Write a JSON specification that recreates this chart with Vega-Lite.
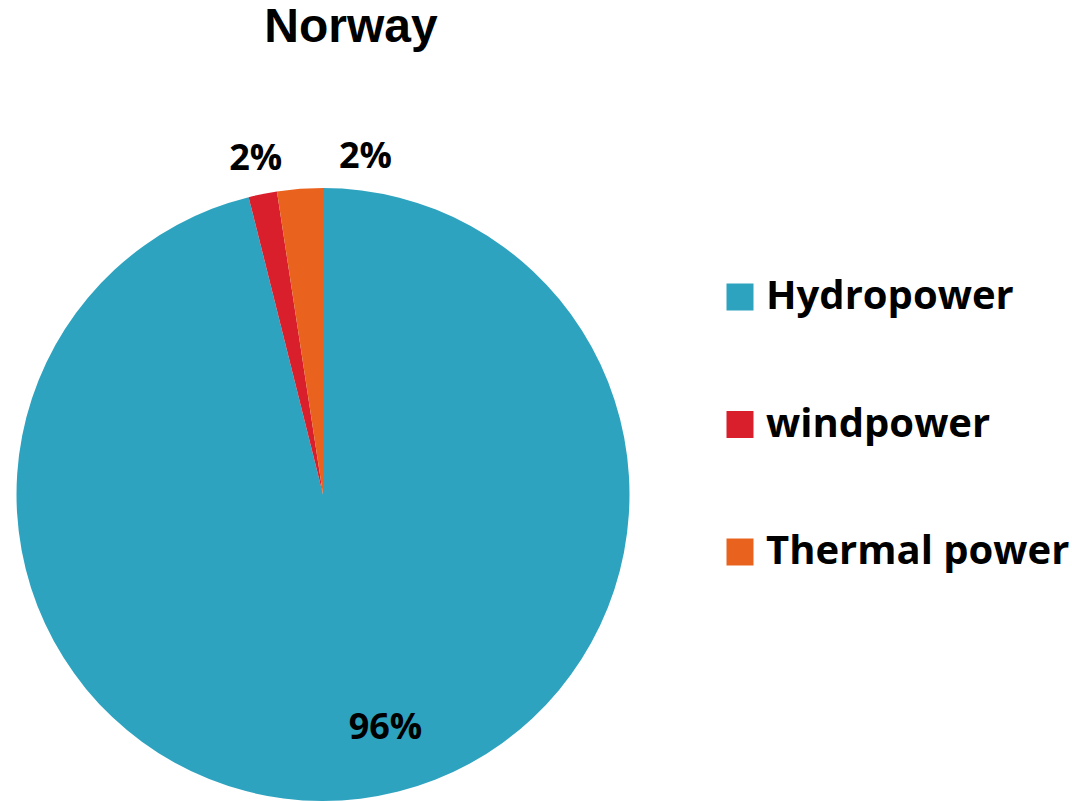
{
  "$schema": "https://vega.github.io/schema/vega-lite/v6.json",
  "autosize": "none",
  "width": 646,
  "height": 613,
  "padding": {"left": 0, "top": 188, "right": 426, "bottom": 0},
  "background": "white",
  "title": {
    "text": "Norway",
    "font": "Liberation Sans",
    "fontSize": 48,
    "fontWeight": "bold",
    "color": "black",
    "anchor": "middle",
    "frame": "group",
    "dx": 28,
    "offset": 83
  },
  "data": {
    "values": [
      {"source": "Hydropower", "seq": 1, "share": 0.961},
      {"source": "windpower", "seq": 2, "share": 0.015},
      {"source": "Thermal power", "seq": 3, "share": 0.024}
    ]
  },
  "encoding": {
    "theta": {"field": "share", "type": "quantitative", "stack": true},
    "order": {"field": "seq", "type": "quantitative"}
  },
  "layer": [
    {
      "mark": {"type": "arc", "outerRadius": 306.5},
      "encoding": {
        "color": {
          "field": "source",
          "type": "nominal",
          "sort": ["Hydropower", "windpower", "Thermal power"],
          "scale": {
            "domain": ["Hydropower", "windpower", "Thermal power"],
            "range": ["#2EA3BF", "#DA1F2C", "#E9631F"]
          },
          "legend": {
            "title": null,
            "orient": "none",
            "legendX": 720,
            "legendY": 89,
            "symbolType": "square",
            "symbolSize": 729,
            "symbolStrokeWidth": 0,
            "labelFont": "Open Sans",
            "labelFontWeight": "bold",
            "labelFontSize": 40,
            "labelColor": "black",
            "labelOffset": 6,
            "rowPadding": 87.5,
            "labelLimit": 400
          }
        }
      }
    },
    {
      "mark": {"type": "text", "radius": 241, "dx": 33, "dy": -6, "font": "Open Sans", "fontWeight": "bold", "fontSize": 36, "color": "black"},
      "encoding": {"text": {"condition": {"test": "datum.source === 'Hydropower'", "field": "share", "type": "quantitative", "format": ".0%"}, "value": ""}}
    },
    {
      "mark": {"type": "text", "radius": 342, "font": "Open Sans", "fontWeight": "bold", "fontSize": 36, "color": "black"},
      "encoding": {"text": {"condition": {"test": "datum.source === 'windpower'", "field": "share", "type": "quantitative", "format": ".0%"}, "value": ""}}
    },
    {
      "mark": {"type": "text", "radius": 338, "dx": 68, "font": "Open Sans", "fontWeight": "bold", "fontSize": 36, "color": "black"},
      "encoding": {"text": {"condition": {"test": "datum.source === 'Thermal power'", "field": "share", "type": "quantitative", "format": ".0%"}, "value": ""}}
    }
  ]
}
